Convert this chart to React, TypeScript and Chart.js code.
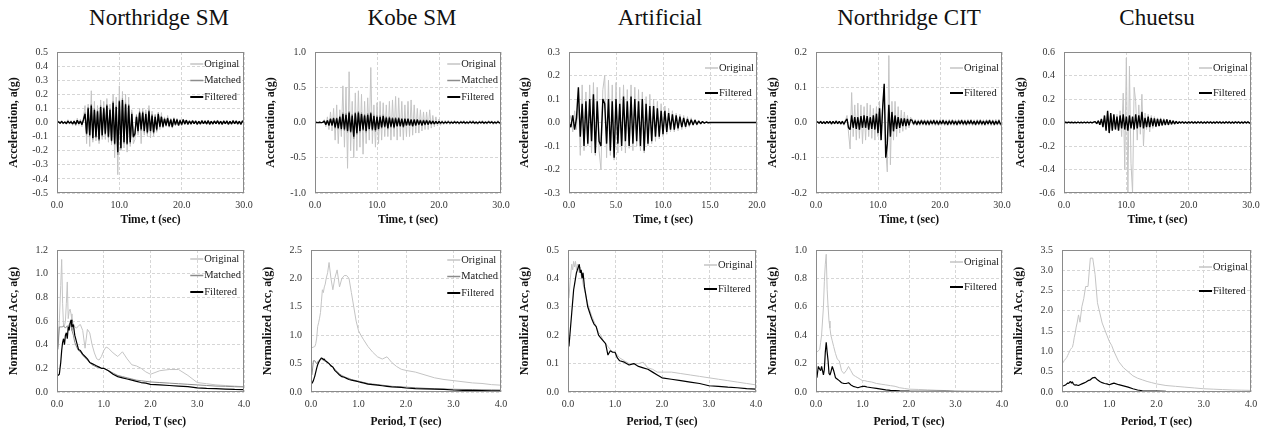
import React, { useEffect, useRef } from "react";
import { Chart, registerables } from "chart.js";
Chart.register(...registerables);

// ---------- column titles ----------
const columnTitles = ["Northridge SM", "Kobe SM", "Artificial", "Northridge CIT", "Chuetsu"];
const titleCenters = [159, 412, 660, 909, 1157];

// ---------- time histories (milli-g), sampled every dt seconds ----------
const dt30 = 0.25;
const dtArt = 0.2;

const nrsmTimeOrig = [0,10,-10,15,-12,10,-15,20,-12,15,-20,18,-25,30,-20,25,-30,40, 120,-150,130,-170,225,-140, 150,-130,120,-150,160,-120, 150,-120,170,-140,130,-160, 200,-250,180,-370,260,-200, 220,-180,200,-210,180,-170, 90,-150,-120,60,-90,100, -150,100,-90,90,-100,120, -110,80,-100,60,-70,70, -50,70,-40,40,-30,50, -35,30,-40,35,-25,30, -25,20,-20,25,-15,20, -18,15,-15,18,-12,15,-18,12,-15,18,-12,15,-15,18,-18,12,-15,15,-12,18,-15,12,-18,15,-12,15,-18,12,-15,18,-12,15,-15,12,-18,15,0];
const nrsmTimeMatched = [0,6,-6,9,-7,5,-9,11,-6,7,-11,9,-13,16,-9,11,-16,22, 70,-90,110,-100,130,-120, 100,-110,90,-130,120,-100, 110,-90,130,-110,100,-140, 150,-160,120,-230,160,-190, 170,-150,140,-160,130,-150, 70,-110,-90,50,-70,80, -60,80,-70,70,-80,90, -70,60,-80,50,-60,70, -35,45,-35,30,-25,35, -30,25,-35,30,-20,25, -25,20,-20,25,-12,18, -14,12,-12,14,-10,12,-14,10,-12,14,-10,12,-12,14,-14,10,-12,12,-10,14,-12,10,-14,12,-10,12,-14,10,-12,14,-10,12,-12,10,-14,12,0];
const nrsmTimeFilt = [0,5,-5,8,-6,4,-8,10,-5,6,-10,8,-12,15,-8,10,-15,20, 60,-80,100,-90,120,-110, 90,-100,80,-120,110,-90, 100,-80,120,-100,90,-130, 140,-150,110,-210,150,-180, 160,-140,130,-150,120,-140, 60,-100,-80,40,-60,70, -50,70,-60,60,-70,80, -60,50,-70,40,-50,60, -30,40,-30,25,-20,30, -25,20,-30,25,-15,20, -20,15,-15,20,-10,15, -12,10,-10,12,-8,10,-12,8,-10,12,-8,10,-10,12,-12,8,-10,10,-8,12,-10,8,-12,10,-8,10,-12,8,-10,12,-8,10,-10,8,-12,10,0];

const kobeTimeOrig = [0,5,-5,5,-5,5, 40,-60,80,-100,150,-120, 200,-250,250,-300,180,-200, 520,-350,500,-650,720,-400, 300,-500,420,-400,450,-350, 400,-450,300,-300,350,-250, 780,-300,250,-350,280,-300, 300,-250,280,-200,250,-200, 300,-250,320,-200,370,-250, 350,-200,300,-250,250,-200, 300,-200,320,-180,250,-150, 200,-150,180,-120,150,-100, 150,-100,180,-80,100,-60, 80,-50,50,-40,30,-30, 30,-25,35,-30,25,-20,30,-25,20,-30,25,-20,30,-25,20,-25,30,-20,35,-25,20,-30,25,-20,30,-25,20,-25,30,-20,25,-30,20,-25,30,-20,0];
const kobeTimeMatched = [0,3,-3,4,-3,3, 25,-35,35,-50,60,-50, 70,-85,70,-95,95,-110, 140,-120,130,-140,160,-150, 120,-230,150,-170,160,-140, 140,-120,120,-140,130,-110, 150,-120,110,-130,100,-110, 100,-85,110,-75,85,-95, 85,-75,75,-85,75,-60, 75,-60,60,-75,60,-50, 60,-50,50,-60,50,-50, 50,-40,40,-50,40,-40, 40,-35,30,-25,25,-25, 20,-20,20,-12,12,-12, 10,-10,12,-10,8,-10,10,-8,10,-12,10,-8,10,-10,8,-10,12,-8,10,-10,8,-12,10,-8,10,-10,8,-10,12,-8,10,-10,8,-10,12,-8,0];
const kobeTimeFilt = [0,2,-2,3,-2,2, 20,-30,30,-40,50,-40, 60,-70,60,-80,80,-90, 120,-100,110,-120,140,-130, 100,-200,130,-150,140,-120, 120,-100,100,-120,110,-90, 130,-100,90,-110,80,-90, 80,-70,90,-60,70,-80, 70,-60,60,-70,60,-50, 60,-50,50,-60,50,-40, 50,-40,40,-50,40,-40, 40,-30,30,-40,30,-30, 30,-30,25,-20,20,-20, 15,-15,15,-10,10,-10, 8,-8,10,-8,6,-8,8,-6,8,-10,8,-6,8,-8,6,-8,10,-6,8,-8,6,-10,8,-6,8,-8,6,-8,10,-6,8,-8,6,-8,10,-6,0];

const artTimeOrig = [0,30,-40,50,-30, 100,-140,160,-120,130, -100,160,-130,170,-140, 150,-120,-200,140,200, -150,180,-140,160,-160, 170,-130,150,-120,160, -130,140,-110,160,-120, 150,-100,140,-120,130, -130,110,-100,120,-90, 100,-80,90,-70,80, -60,70,-50,60,-40, 50,-40,40,-35,35, -30,30,-25,25,-20, 20,-15,15,-12,10, -8,6,-5,3,-2,0, 0,0,0,0,0,0,0,0,0,0,0,0,0,0,0,0,0,0,0,0,0,0,0,0,0];
const artTimeFilt = [0,-20,30,-30,20, 150,-60,80,-100,90, -90,100,-80,120,-130, 90,-80,-100,100,80, -90,100,-120,90,-150, 100,-90,80,-100,110, -80,90,-100,110,-90, 100,-80,90,-100,100, -120,80,-90,70,-80, 70,-60,60,-60,50, -50,50,-40,40,-30, 35,-30,30,-25,25, -20,20,-18,15,-12, 12,-10,10,-8,6, -5,4,-3,2,-1,0, 0,0,0,0,0,0,0,0,0,0,0,0,0,0,0,0,0,0,0,0,0,0,0,0,0];

const citTimeOrig = [0,3,-3,5,-4,3,-5,4,-3,5,-6,4,-5,6,-5,4,-6,5,-8,6, 20,-30,-75,85,-40,50, -50,55,-45,50,-60,45, -50,55,-40,50,-45,40, -50,45,-40,60,-50,50, 100,-80,-140,190,-120,60, -50,60,-40,45,-30,35, -25,30,-20,20,-15,15, 10,-8,9,-10,8,-9,10,-8,9,-10,8,-10,9,-8,10,-9,8,-10,9,-8,10,-9,8,-10,9,-8,10,-9,8,-10,9,-8,10,-9,8,-10,9,-8,10,-9,8,-10,9,-8,10,-9,8,-10,9,-8,10,-9,8,-10,9,-8,10,-9,0];
const citTimeFilt = [0,2,-2,3,-3,2,-3,3,-2,3,-4,3,-3,4,-3,3,-4,3,-5,4, 10,-15,-20,20,-15,15, -18,15,-20,18,-15,20, -15,18,-20,15,-18,20, -20,25,-30,40,-50,40, 110,-100,-60,50,-40,30, -25,20,-18,15,-15,12, -10,12,-10,10,-8,8, 6,-5,5,-6,4,-5,6,-5,5,-6,5,-6,5,-4,6,-5,5,-6,5,-4,6,-5,4,-6,5,-5,6,-5,4,-6,5,-4,6,-5,5,-6,5,-4,6,-5,4,-6,5,-5,6,-5,4,-6,5,-4,6,-5,5,-6,4,-5,6,-5,0];

const chuTimeOrig = [0,3,-3,4,-3,3,-4,3,-4,5,-4,3,-5,4,-5,6,-5,4,-6,5, 10,-15,20,-20,25,-20, 40,-60,80,-70,60,-50, 60,-50,70,-60,100,-120, 250,-400,550,-600,480,-350, -600,300,180,-150,150,-100, 240,-200,80,-60,70,-80, 60,-50,50,-40,40,-30, 40,-30,35,-30,30,-25, 25,-20,20,-18,15,-12, 10,-8,12,-10,8,-12,10,-8,12,-10,8,-10,12,-8,10,-12,8,-10,12,-8,10,-12,8,-10,12,-8,10,-12,8,-10,12,-8,10,-12,8,-10,12,-8,10,-12,8,-10,12,-8,10,-8,0];
const chuTimeFilt = [0,2,-2,3,-2,2,-3,2,-3,3,-3,2,-3,3,-3,4,-3,3,-4,3, 8,-10,15,-20,30,-40, 60,-70,100,-90,80,-70, 70,-60,50,-70,60,-50, 70,-60,50,-70,60,-50, 50,-60,70,-50,60,-40, 90,-50,40,-40,50,-40, 40,-30,35,-35,30,-30, 30,-25,25,-20,25,-20, 20,-15,15,-12,10,-10, 6,-5,7,-6,5,-7,6,-5,7,-6,5,-6,7,-5,6,-7,5,-6,7,-5,6,-7,5,-6,7,-5,6,-7,5,-6,7,-5,6,-7,5,-6,7,-5,6,-7,5,-6,7,-5,6,-5,0];

// ---------- response spectra (g) vs period (sec) ----------
const periods = [0.02,0.05,0.08,0.1,0.12,0.14,0.16,0.18,0.2, 0.22,0.24,0.26,0.28,0.3, 0.32,0.35,0.38,0.42,0.46,0.5, 0.55,0.6,0.65,0.7,0.75,0.8,0.85,0.9,0.95,1.0, 1.05,1.1, 1.2,1.3,1.4,1.5,1.6,1.7,1.8,1.9,2.0, 2.2,2.4,2.6,2.8,3.0, 3.2,3.4,3.6,3.8,4.0];

const nrsmSpecOrig = [0.38,0.6,0.9,1.12,0.75,0.55,0.56,0.6,0.75, 0.93,0.62,0.68,0.70,0.66, 0.60,0.58,0.55,0.54,0.56,0.57, 0.52,0.37,0.53,0.50,0.40,0.33,0.28,0.27,0.30,0.35, 0.38,0.37, 0.33,0.30,0.34,0.28,0.23,0.22,0.20,0.17,0.15, 0.18,0.19,0.19,0.14,0.08, 0.07,0.06,0.055,0.05,0.045];
const nrsmSpecMatched = [0.36,0.55,0.55,0.55,0.55,0.56,0.55,0.54,0.55, 0.56,0.55,0.57,0.58,0.57, 0.52,0.48,0.42,0.38,0.35,0.34, 0.31,0.29,0.27,0.25,0.23,0.22,0.21,0.21,0.20,0.20, 0.19,0.18, 0.16,0.14,0.13,0.12,0.11,0.10,0.095,0.09,0.085, 0.08,0.075,0.07,0.065,0.06, 0.055,0.05,0.048,0.045,0.043];
const nrsmSpecFilt = [0.14,0.15,0.25,0.35,0.42,0.45,0.40,0.48,0.50, 0.45,0.55,0.52,0.58,0.61, 0.55,0.57,0.48,0.42,0.36,0.35, 0.32,0.30,0.28,0.25,0.24,0.23,0.22,0.21,0.20,0.20, 0.19,0.18, 0.15,0.13,0.12,0.11,0.10,0.09,0.08,0.075,0.065, 0.06,0.055,0.05,0.045,0.035, 0.03,0.028,0.025,0.022,0.02];

const kobeSpecOrig = [0.78,0.79,0.8,0.85,0.95,1.15,1.22,1.3,1.4, 1.6,1.8,1.75,1.85,1.9, 2.0,2.1,2.28,2.0,1.8,2.0, 2.15,1.85,2.0,2.05,2.05,2.0,1.75,1.5,1.25,1.08, 1.0,0.93, 0.8,0.7,0.62,0.58,0.62,0.52,0.45,0.40,0.38, 0.35,0.30,0.25,0.22,0.20, 0.18,0.16,0.15,0.13,0.12];
const kobeSpecMatched = [0.3,0.55,0.55,0.52,0.5,0.53,0.55,0.56,0.57, 0.58,0.57,0.56,0.55,0.55, 0.53,0.52,0.5,0.47,0.44,0.40, 0.36,0.32,0.29,0.27,0.25,0.24,0.22,0.21,0.20,0.19, 0.18,0.17, 0.15,0.14,0.13,0.12,0.11,0.10,0.095,0.09,0.085, 0.075,0.065,0.058,0.052,0.048, 0.045,0.042,0.04,0.038,0.035];
const kobeSpecFilt = [0.15,0.2,0.28,0.35,0.42,0.48,0.52,0.55,0.58, 0.60,0.59,0.57,0.58,0.55, 0.54,0.52,0.50,0.46,0.44,0.38, 0.34,0.30,0.27,0.26,0.24,0.22,0.21,0.20,0.19,0.18, 0.17,0.16, 0.14,0.13,0.12,0.11,0.10,0.09,0.085,0.08,0.07, 0.06,0.055,0.05,0.045,0.035, 0.03,0.028,0.025,0.022,0.02];

const artSpecOrig = [0.33,0.40,0.45,0.43,0.46,0.44,0.46,0.43,0.45, 0.44,0.42,0.44,0.41,0.40, 0.38,0.36,0.34,0.31,0.29,0.27, 0.25,0.23,0.21,0.20,0.18,0.17,0.16,0.15,0.14,0.14, 0.13,0.12, 0.11,0.10,0.10,0.10,0.105,0.085,0.08,0.07,0.07, 0.07,0.065,0.06,0.055,0.05, 0.045,0.04,0.035,0.03,0.025];
const artSpecFilt = [0.16,0.22,0.28,0.32,0.36,0.38,0.40,0.42,0.43, 0.44,0.45,0.42,0.43,0.40, 0.42,0.37,0.34,0.30,0.28,0.26, 0.24,0.23,0.20,0.19,0.18,0.17,0.13,0.145,0.14,0.14, 0.12,0.11, 0.105,0.095,0.10,0.09,0.085,0.08,0.07,0.06,0.05, 0.045,0.04,0.035,0.03,0.022, 0.02,0.017,0.015,0.012,0.01];

const citSpecOrig = [0.28,0.29,0.30,0.35,0.40,0.50,0.60,0.78,0.90, 0.97,0.72,0.60,0.50,0.45, 0.40,0.36,0.32,0.27,0.23,0.22, 0.15,0.13,0.15,0.18,0.15,0.12,0.11,0.10,0.09,0.08, 0.08,0.075, 0.07,0.06,0.055,0.05,0.045,0.04,0.03,0.025,0.02, 0.018,0.015,0.012,0.01,0.01, 0.008,0.007,0.006,0.005,0.005];
const citSpecFilt = [0.10,0.18,0.16,0.15,0.18,0.15,0.12,0.16,0.28, 0.35,0.28,0.22,0.13,0.12, 0.14,0.18,0.15,0.10,0.09,0.08, 0.065,0.06,0.06,0.065,0.05,0.04,0.035,0.03,0.035,0.04, 0.04,0.035, 0.03,0.025,0.02,0.015,0.012,0.01,0.008,0.007,0.006, 0.005,0.005,0.004,0.004,0.003, 0.003,0.003,0.003,0.003,0.003];

const chuSpecOrig = [0.72,0.78,0.82,0.85,0.9,0.95,1.0,1.05,1.08, 1.1,1.2,1.35,1.45,1.6, 1.7,1.9,1.72,2.1,2.3,2.6, 2.6,3.3,3.3,2.9,2.2,1.95,1.7,1.55,1.4,1.25, 1.15,1.0, 0.75,0.6,0.5,0.4,0.34,0.3,0.26,0.23,0.2, 0.16,0.14,0.12,0.1,0.08, 0.07,0.06,0.05,0.045,0.04];
const chuSpecFilt = [0.15,0.16,0.18,0.2,0.22,0.21,0.24,0.26,0.22, 0.25,0.2,0.18,0.17,0.18, 0.17,0.16,0.18,0.2,0.22,0.24, 0.28,0.3,0.35,0.36,0.3,0.26,0.23,0.21,0.2,0.18, 0.2,0.22, 0.18,0.15,0.12,0.08,0.05,0.03,0.025,0.02,0.02, 0.015,0.012,0.01,0.01,0.01, 0.008,0.007,0.006,0.005,0.005];

// ---------- helpers ----------
type Pt = { x: number; y: number };
const timeSeries = (vals: number[], dt: number): Pt[] => vals.map((v, i) => ({ x: Math.round(i * dt * 1000) / 1000, y: v / 1000 }));
const spectrum = (vals: number[]): Pt[] => periods.map((p, i) => ({ x: p, y: vals[i] }));

const SERIF = '"Liberation Serif", "Times New Roman", serif';
const STYLE: Record<string, { color: string; width: number; order: number; legendWidth: number }> = {
  Original: { color: "#c4c4c4", width: 1, order: 3, legendWidth: 1.5 },
  Matched: { color: "#8c8c8c", width: 1, order: 2, legendWidth: 1.5 },
  Filtered: { color: "#000000", width: 1.2, order: 1, legendWidth: 2 },
};

interface PanelCfg {
  PL: number; PR: number; PT: number; PB: number; YT: number;
  xMax: number; xStep: number; yMin: number; yMax: number; yStep: number;
  xTitle: string; yTitle: string; xTitlePad: number; xAxisH: number;
  series: { label: string; data: Pt[] }[];
  legendFirst: number; legendGap: number; filtWidth: number;
}

const TOP_T = 52, TOP_B = 193, BOT_T = 250, BOT_B = 392;

const topRow = (PL: number, PR: number, YT: number, xMax: number, xStep: number, yMax: number, yStep: number, series: { label: string; data: Pt[] }[]): PanelCfg => ({
  PL, PR, PT: TOP_T, PB: TOP_B, YT, xMax, xStep, yMin: -yMax, yMax, yStep,
  xTitle: "Time, t (sec)", yTitle: "Acceleration, a(g)", xTitlePad: 2, xAxisH: 36, series,
  legendFirst: series.length === 3 ? 12 : 16, legendGap: series.length === 3 ? 16.5 : 25, filtWidth: 1.4,
});
const botRow = (PL: number, PR: number, YT: number, yMax: number, yStep: number, series: { label: string; data: Pt[] }[], lf: number, lg: number): PanelCfg => ({
  PL, PR, PT: BOT_T, PB: BOT_B, YT, xMax: 4, xStep: 1, yMin: 0, yMax, yStep,
  xTitle: "Period, T (sec)", yTitle: "Normalized Acc, a(g)", xTitlePad: 0, xAxisH: 37, series,
  legendFirst: lf, legendGap: lg, filtWidth: 1.2,
});

const PANELS: PanelCfg[] = [
  topRow(57, 244, 14, 30, 10, 0.5, 0.1, [
    { label: "Original", data: timeSeries(nrsmTimeOrig, dt30) },
    { label: "Matched", data: timeSeries(nrsmTimeMatched, dt30) },
    { label: "Filtered", data: timeSeries(nrsmTimeFilt, dt30) },
  ]),
  topRow(315, 501, 271, 30, 10, 1.0, 0.5, [
    { label: "Original", data: timeSeries(kobeTimeOrig, dt30) },
    { label: "Matched", data: timeSeries(kobeTimeMatched, dt30) },
    { label: "Filtered", data: timeSeries(kobeTimeFilt, dt30) },
  ]),
  topRow(569, 757, 525, 20, 5, 0.3, 0.1, [
    { label: "Original", data: timeSeries(artTimeOrig, dtArt) },
    { label: "Filtered", data: timeSeries(artTimeFilt, dtArt) },
  ]),
  topRow(816, 1002, 773, 30, 10, 0.2, 0.1, [
    { label: "Original", data: timeSeries(citTimeOrig, dt30) },
    { label: "Filtered", data: timeSeries(citTimeFilt, dt30) },
  ]),
  topRow(1064, 1251, 1021, 30, 10, 0.6, 0.2, [
    { label: "Original", data: timeSeries(chuTimeOrig, dt30) },
    { label: "Filtered", data: timeSeries(chuTimeFilt, dt30) },
  ]),
  botRow(57, 244, 14, 1.2, 0.2, [
    { label: "Original", data: spectrum(nrsmSpecOrig) },
    { label: "Matched", data: spectrum(nrsmSpecMatched) },
    { label: "Filtered", data: spectrum(nrsmSpecFilt) },
  ], 9, 16.5),
  botRow(311, 501, 268, 2.5, 0.5, [
    { label: "Original", data: spectrum(kobeSpecOrig) },
    { label: "Matched", data: spectrum(kobeSpecMatched) },
    { label: "Filtered", data: spectrum(kobeSpecFilt) },
  ], 10, 16.5),
  botRow(568, 756, 525, 0.5, 0.1, [
    { label: "Original", data: spectrum(artSpecOrig) },
    { label: "Filtered", data: spectrum(artSpecFilt) },
  ], 15, 24),
  botRow(816, 1002, 773, 1.0, 0.2, [
    { label: "Original", data: spectrum(citSpecOrig) },
    { label: "Filtered", data: spectrum(citSpecFilt) },
  ], 12, 25),
  botRow(1062, 1251, 1019, 3.5, 0.5, [
    { label: "Original", data: spectrum(chuSpecOrig) },
    { label: "Filtered", data: spectrum(chuSpecFilt) },
  ], 17, 24),
];

// ---------- plugins ----------
const framePlugin = {
  id: "frame",
  afterDatasetsDraw(chart: any) {
    const { ctx, chartArea } = chart;
    ctx.save();
    ctx.strokeStyle = "#8a8a8a";
    ctx.lineWidth = 1;
    ctx.strokeRect(chartArea.left + 0.5, chartArea.top + 0.5, chartArea.right - chartArea.left - 1, chartArea.bottom - chartArea.top - 1);
    ctx.restore();
  },
};

const innerLegendPlugin = {
  id: "innerLegend",
  afterDraw(chart: any, _args: any, opts: any) {
    const { ctx, chartArea } = chart;
    const ds = chart.data.datasets;
    ctx.save();
    ctx.font = `10.5px ${SERIF}`;
    const maxW = Math.max(...ds.map((d: any) => ctx.measureText(d.label).width));
    const textX = chartArea.right - 3 - maxW;
    ds.forEach((d: any, i: number) => {
      const y = chartArea.top + opts.first + i * opts.gap;
      const st = STYLE[d.label];
      ctx.strokeStyle = st.color;
      ctx.lineWidth = st.legendWidth;
      ctx.beginPath();
      ctx.moveTo(textX - 14, y);
      ctx.lineTo(textX - 1, y);
      ctx.stroke();
      ctx.fillStyle = "#222";
      ctx.textAlign = "left";
      ctx.textBaseline = "middle";
      ctx.fillText(d.label, textX, y);
    });
    ctx.restore();
  },
};

const fmt = (v: number) => (Math.abs(v) < 1e-9 ? "0.0" : Number(v).toFixed(1));

// layout padding must exceed the scales' own label padding (half label + tick padding)
const PAD_TOP = 17;
const PAD_RIGHT = 17;

function Panel({ cfg }: { cfg: PanelCfg }) {
  const ref = useRef<HTMLCanvasElement>(null);
  const left = cfg.YT - 7;
  const top = cfg.PT - PAD_TOP;
  const width = cfg.PR + PAD_RIGHT - left;
  const height = cfg.PB + cfg.xAxisH - top;
  const yAxisW = cfg.PL - left;

  useEffect(() => {
    const chart = new Chart(ref.current as HTMLCanvasElement, {
      type: "line",
      data: {
        datasets: cfg.series.map((s) => ({
          label: s.label,
          data: s.data,
          borderColor: STYLE[s.label].color,
          borderWidth: s.label === "Filtered" ? cfg.filtWidth : STYLE[s.label].width,
          order: STYLE[s.label].order,
          pointRadius: 0,
          tension: 0,
          fill: false,
          borderJoinStyle: "bevel",
        })) as any,
      },
      options: {
        responsive: false,
        animation: false,
        devicePixelRatio: 1,
        layout: { padding: { top: PAD_TOP, right: PAD_RIGHT, left: 0, bottom: 0 } },
        plugins: {
          legend: { display: false },
          tooltip: { enabled: false },
          innerLegend: { first: cfg.legendFirst, gap: cfg.legendGap },
        } as any,
        scales: {
          x: {
            type: "linear",
            min: 0,
            max: cfg.xMax,
            afterFit: (s: any) => { s.height = cfg.xAxisH; },
            ticks: { stepSize: cfg.xStep, autoSkip: false, maxRotation: 0, padding: 6, color: "#333", font: { family: SERIF, size: 10 }, callback: (v: any) => fmt(Number(v)) },
            grid: { color: "#d6d6d6", lineWidth: 1, drawTicks: false },
            border: { display: false, dash: [3, 2] },
            title: { display: true, text: cfg.xTitle, color: "#111", font: { family: SERIF, size: 11.5, weight: "bold" }, padding: { top: 0, bottom: cfg.xTitlePad } },
          },
          y: {
            type: "linear",
            min: cfg.yMin,
            max: cfg.yMax,
            afterFit: (s: any) => { s.width = yAxisW; },
            ticks: { stepSize: cfg.yStep, autoSkip: false, padding: 9, color: "#333", font: { family: SERIF, size: 10 }, callback: (v: any) => fmt(Number(v)) },
            grid: { color: "#d6d6d6", lineWidth: 1, drawTicks: false },
            border: { display: false, dash: [3, 2] },
            title: { display: true, text: cfg.yTitle, color: "#111", font: { family: SERIF, size: 12, weight: "bold" }, padding: { top: 0, bottom: 0 } },
          },
        },
      } as any,
      plugins: [framePlugin, innerLegendPlugin],
    });
    return () => chart.destroy();
  }, []);

  return (
    <canvas
      ref={ref}
      width={width}
      height={height}
      style={{ position: "absolute", left, top, width, height }}
    />
  );
}

export default function App() {
  return (
    <div style={{ position: "fixed", left: 0, top: 0, width: 1264, height: 432, background: "#fff", overflow: "hidden" }}>
      {columnTitles.map((t, i) => (
        <div
          key={t}
          style={{ position: "absolute", left: titleCenters[i] - 120, width: 240, top: 4, height: 28, lineHeight: "28px", textAlign: "center", fontFamily: SERIF, fontSize: 23, color: "#111" }}
        >
          {t}
        </div>
      ))}
      {PANELS.map((p, i) => (
        <Panel key={i} cfg={p} />
      ))}
    </div>
  );
}
